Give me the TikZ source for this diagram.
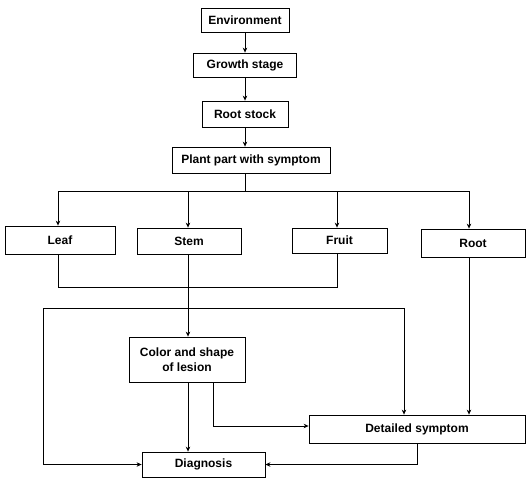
\documentclass[tikz,border=0pt]{standalone}
\usepackage{fontspec}
\setmainfont{Liberation Sans}
\usetikzlibrary{arrows.meta}
\begin{document}
\begin{tikzpicture}[x=1pt,y=-1pt,
  box/.style={draw,line width=0.8pt,inner sep=0pt,align=center,
    font=\fontsize{12}{14.5}\selectfont\bfseries},
  conn/.style={line width=0.7pt},
  arr/.style={conn,-{Stealth[length=5pt,width=4.5pt]}}]
\useasboundingbox (0,0) rectangle (526,481);
% nodes
\node[box,minimum width=88pt,minimum height=24pt] (env) at (245,20) {Environment};
\node[box,minimum width=103pt,minimum height=24pt] (gs) at (245,65) {Growth stage};
\node[box,minimum width=86pt,minimum height=26pt] (rs) at (245,114) {Root stock};
\node[box,minimum width=158pt,minimum height=26pt] (pp) at (251,160) {Plant part with symptom};
\node[box,minimum width=110pt,minimum height=28pt] (leaf) at (60,240) {Leaf};
\node[box,minimum width=104pt,minimum height=26pt] (stem) at (189,241) {Stem};
\node[box,minimum width=95pt,minimum height=25pt] (fruit) at (339.5,240.5) {Fruit};
\node[box,minimum width=104pt,minimum height=28pt] (root) at (473,243) {Root};
\node[box,minimum width=116pt,minimum height=45pt] (color) at (187,359.5) {Color and shape\\of lesion};
\node[box,minimum width=123pt,minimum height=25pt] (diag) at (203.5,464.5) {Diagnosis};
\node[box,minimum width=216pt,minimum height=28pt] (det) at (417,429) {Detailed symptom};
% helper coordinates
\coordinate (bus) at (245,191);
\coordinate (dl) at (58,191);
\coordinate (ds) at (188,191);
\coordinate (df) at (337,191);
\coordinate (dr) at (469,191);
\coordinate (lbL) at (58,287);
\coordinate (lbR) at (337,287);
\coordinate (lpL) at (43,308);
\coordinate (lpR) at (404,308);
\coordinate (cb) at (213,426);
\coordinate (dd) at (417,464.5);
% connectors
\draw[arr] (env) -- (gs);
\draw[arr] (gs) -- (rs);
\draw[arr] (rs.south) -- (rs.south |- pp.north);
\draw[conn] (rs.south |- pp.south) -- (bus);
\draw[conn] (dl) -- (dr);
\draw[arr] (dl) -- (dl |- leaf.north);
\draw[arr] (ds) -- (ds |- stem.north);
\draw[arr] (df) -- (df |- fruit.north);
\draw[arr] (dr) -- (dr |- root.north);
\draw[conn] (dl |- leaf.south) -- (lbL) -- (lbR) -- (df |- fruit.south);
\draw[arr] (ds |- stem.south) -- (ds |- color.north);
\draw[conn] (lpL) -- (lpR);
\draw[arr] (lpR) -- (lpR |- det.north);
\draw[arr] (lpL) |- (diag.west);
\draw[arr] (ds |- color.south) -- (ds |- diag.north);
\draw[arr,line width=0.9pt] (cb |- color.south) -- (cb) -- (det.west |- cb);
\draw[arr] (dr |- root.south) -- (dr |- det.north);
\draw[arr,line width=0.9pt] (dd |- det.south) -- (dd) -- (diag.east);
\end{tikzpicture}
\end{document}
